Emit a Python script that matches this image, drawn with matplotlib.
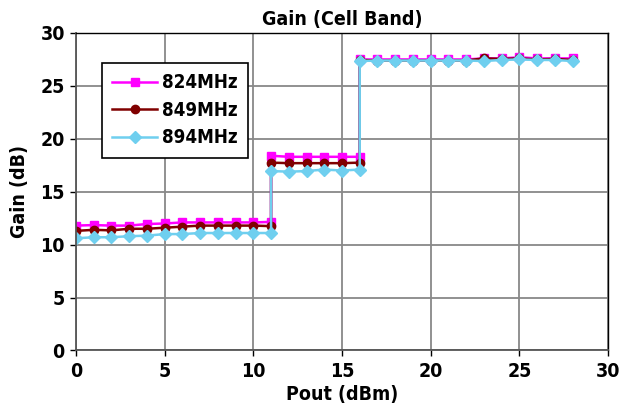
import os
import matplotlib
matplotlib.use("Agg")
import matplotlib.pyplot as plt
from matplotlib import font_manager

# pick a condensed bold font if available
fam = None
cands = ['LiberationSansNarrow-Bold', 'DejaVuSansCondensed-Bold', 'RobotoCondensed-Bold',
         'OpenSansCondensed-Bold', 'NotoSans-CondensedBold', 'NotoSansCondensed-Bold']
files = font_manager.findSystemFonts()
found = None
for c in cands:
    for f in files:
        if os.path.basename(f).lower().startswith(c.lower()):
            found = f
            break
    if found:
        break
if found:
    font_manager.fontManager.addfont(found)
    fam = font_manager.FontProperties(fname=found).get_name()
families = [fam, 'Liberation Sans', 'DejaVu Sans'] if fam else ['Liberation Sans', 'DejaVu Sans']
plt.rcParams['font.family'] = families
plt.rcParams['font.weight'] = 'bold'
if found and 'Condensed' in found:
    plt.rcParams['font.stretch'] = 'condensed'

x_pout = [0, 1, 2, 3, 4, 5, 6, 7, 8, 9, 10, 11,
          11, 12, 13, 14, 15, 16,
          16, 17, 18, 19, 20, 21, 22, 23, 24, 25, 26, 27, 28]

gain_824 = [11.8, 11.85, 11.8, 11.8, 11.95, 12.0, 12.1, 12.1, 12.1, 12.1, 12.1, 12.15,
            18.4, 18.3, 18.3, 18.3, 18.3, 18.3,
            27.5, 27.5, 27.5, 27.5, 27.5, 27.5, 27.5, 27.6, 27.6, 27.7, 27.6, 27.6, 27.6]
gain_849 = [11.3, 11.4, 11.35, 11.5, 11.5, 11.6, 11.7, 11.8, 11.8, 11.8, 11.8, 11.75,
            17.75, 17.7, 17.7, 17.7, 17.7, 17.75,
            27.45, 27.4, 27.4, 27.4, 27.4, 27.4, 27.4, 27.6, 27.55, 27.6, 27.5, 27.55, 27.45]
gain_894 = [10.6, 10.7, 10.7, 10.8, 10.85, 11.0, 11.0, 11.1, 11.1, 11.1, 11.1, 11.1,
            16.95, 16.9, 16.95, 17.1, 17.0, 17.1,
            27.35, 27.4, 27.4, 27.4, 27.4, 27.4, 27.4, 27.35, 27.45, 27.5, 27.45, 27.45, 27.35]

labels = ['824MHz', '849MHz', '894MHz']
colors = ['#FF00FF', '#800000', '#6FCFEF']
markers = ['s', 'o', 'D']
msizes = [6, 6, 6]

fig = plt.figure(figsize=(6.29, 4.16), dpi=100)
ax = fig.add_axes([0.1208, 0.1575, 0.8458, 0.7632])

for y, lab, c, m, ms in zip([gain_824, gain_849, gain_894], labels, colors, markers, msizes):
    ax.plot(x_pout, y, color=c, marker=m, markersize=ms, linewidth=1.8, label=lab,
            markeredgecolor=c)

ax.set_xlim(0, 30)
ax.set_ylim(0, 30)
ax.set_xticks([0, 5, 10, 15, 20, 25, 30])
ax.set_yticks([0, 5, 10, 15, 20, 25, 30])
ax.grid(True, color='#888888', linewidth=1.3)
ax.set_axisbelow(True)
for s in ['left', 'bottom']:
    ax.spines[s].set_color('#555555')
    ax.spines[s].set_linewidth(1.3)
for s in ['top', 'right']:
    ax.spines[s].set_color('#000000')
    ax.spines[s].set_linewidth(1.0)
ax.tick_params(axis='both', direction='out', length=4, width=1, color='black',
               labelsize=14, pad=4)
for t in ax.get_xticklabels() + ax.get_yticklabels():
    t.set_fontweight('bold')

ax.set_title('Gain (Cell Band)', fontsize=14, fontweight='bold', pad=6)
ax.set_xlabel('Pout (dBm)', fontsize=14, fontweight='bold', labelpad=3)
ax.set_ylabel('Gain (dB)', fontsize=14, fontweight='bold', labelpad=8)

leg = ax.legend(loc='upper left', bbox_to_anchor=(0.049, 0.905), borderaxespad=0,
                frameon=True, fancybox=False, edgecolor='black', framealpha=1,
                handlelength=2.4, handletextpad=0.25, borderpad=0.55, labelspacing=0.45,
                prop={'family': families, 'weight': 'bold', 'size': 13.5})
leg.get_frame().set_linewidth(1.2)

fig.savefig('out.png', dpi=100)
